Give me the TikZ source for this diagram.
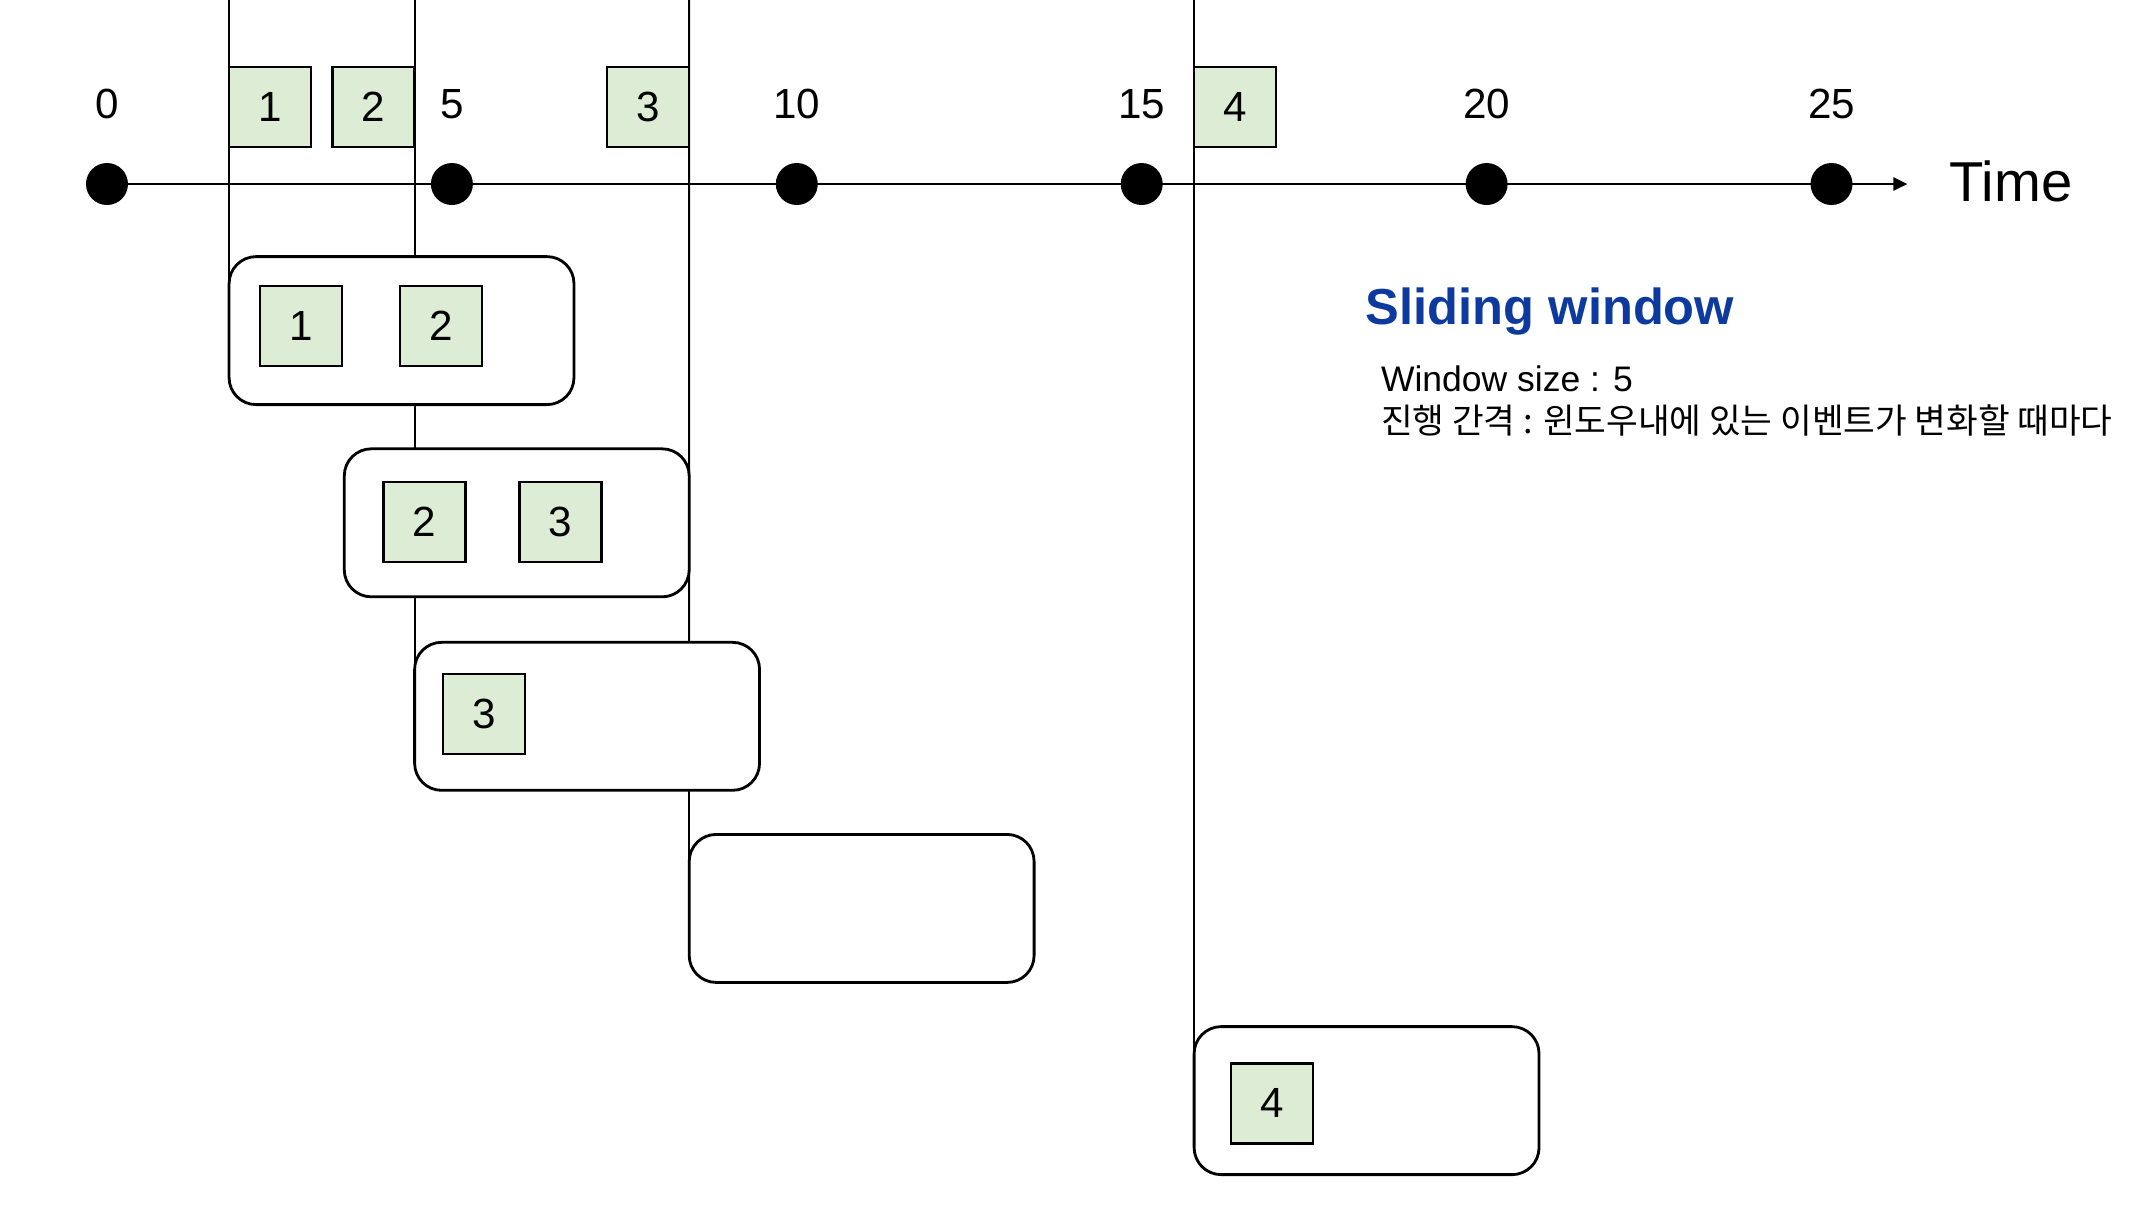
\documentclass[tikz,border=0pt]{standalone}
\usepackage{fontspec}
\setmainfont{Liberation Sans}
\newfontfamily\kofont{Noto Sans CJK KR}
\usepackage{xcolor}
\usetikzlibrary{arrows.meta,calc}
\definecolor{evgreen}{RGB}{221,236,212}
\definecolor{titleblue}{RGB}{12,58,158}

\begin{document}
\begin{tikzpicture}[x=0.6898cm, y=1cm,
  evbox/.style={draw, fill=evgreen, line width=0.7pt, minimum width=0.82cm, minimum height=0.80cm, inner sep=0pt, font=\fontsize{12}{14}\selectfont},
  winbox/.style={draw, rounded corners=0.27cm, line width=0.8pt, minimum width=3.449cm, minimum height=1.48cm, anchor=north west, inner sep=0pt, outer sep=0pt},
  ticklabel/.style={inner sep=0pt, font=\fontsize{12}{14}\selectfont},
  vline/.style={line width=0.6pt}]
\useasboundingbox (-1.551,1.84) rectangle (29.646,-10.24);
% time axis
\foreach \t in {0,5,...,25}
  \coordinate (d\t) at (\t,0);
\coordinate (tend) at (26.10,0);
\draw[line width=0.7pt, -{Triangle[length=1.4mm,width=1.3mm]}] (d0) -- (tend);
\foreach \t in {0,5,...,25} {
  \fill (d\t) circle (0.21cm);
  \node[ticklabel] (lab\t) at (\t,0.797) {\t};
}
\node[anchor=west, inner sep=0pt, font=\fontsize{16}{18}\selectfont] (time) at (26.70,0.03) {Time};
% windows
\node[winbox] (w1) at (1.77,-0.726) {};
\node[winbox] (w2) at (3.44,-2.648) {};
\node[winbox] (w3) at (4.46,-4.583) {};
\node[winbox] (w4) at (8.44,-6.504) {};
\node[winbox] (w5) at (15.76,-8.426) {};
% window boundaries
\coordinate (lA) at (1.77,1.84);
\coordinate (lB) at (4.46,1.84);
\coordinate (lC) at (8.44,1.84);
\coordinate (lD) at (15.76,1.84);
\draw[vline] (lA) -- ([yshift=-0.27cm]w1.north west);
\draw[vline] (lB) -- (w1.north -| lB);
\draw[vline] (w1.south -| lB) -- (w2.north -| lB);
\draw[vline] (w2.south -| lB) -- ([yshift=-0.27cm]w3.north west);
\draw[vline] (lC) -- ([yshift=-0.27cm]w2.north east);
\draw[vline] ([yshift=0.27cm]w2.south east) -- (w3.north -| lC);
\draw[vline] (w3.south -| lC) -- ([yshift=-0.27cm]w4.north west);
\draw[vline] (lD) -- ([yshift=-0.27cm]w5.north west);
% events on the axis
\node[evbox] (e1) at (2.364,0.77) {1};
\node[evbox] (e2) at (3.866,0.77) {2};
\node[evbox] (e3) at (7.846,0.77) {3};
\node[evbox] (e4) at (16.354,0.77) {4};
% events in each window
\node[evbox] (w1e1) at (2.81,-1.42) {1};
\node[evbox] (w1e2) at (4.845,-1.42) {2};
\node[evbox] (w2e2) at (4.605,-3.38) {2};
\node[evbox] (w2e3) at (6.575,-3.38) {3};
\node[evbox] (w3e3) at (5.465,-5.30) {3};
\node[evbox] (w5e4) at (16.885,-9.194) {4};
% description
\node[anchor=west, inner sep=0pt, text=titleblue, font=\bfseries\fontsize{14.4}{17}\selectfont] (title) at (18.24,-1.275) {Sliding window};
\node[anchor=west, inner sep=0pt, font=\fontsize{10.1}{12}\selectfont] (wsize) at (18.46,-1.948) {Window size : 5};
\node[anchor=west, inner sep=0pt, font=\kofont\fontsize{9.8}{11}\selectfont] (interval) at (18.46,-2.36) {진행 간격 : 윈도우내에 있는 이벤트가 변화할 때마다};
\end{tikzpicture}
\end{document}
